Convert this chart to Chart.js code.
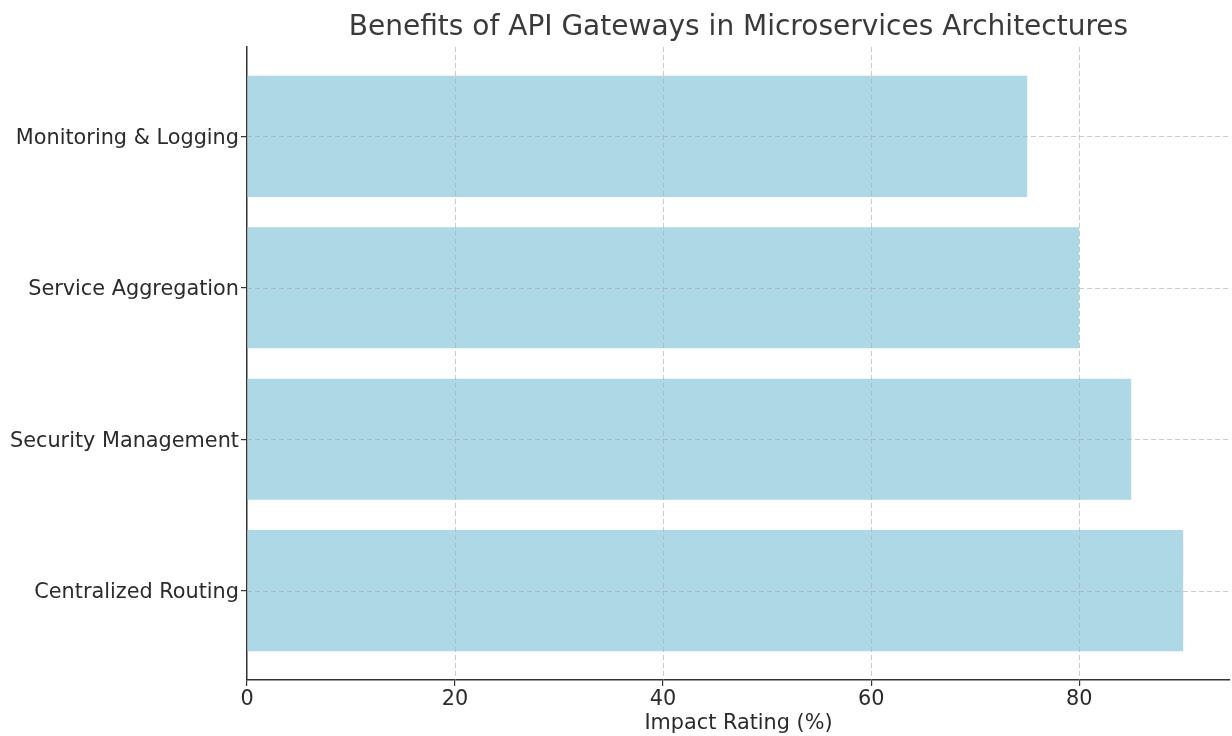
<!DOCTYPE html>
<html>
<head>
<meta charset="utf-8">
<title>Benefits of API Gateways in Microservices Architectures</title>
<script src="https://cdn.jsdelivr.net/npm/chart.js@4.4.1/dist/chart.umd.min.js"></script>
<style>
  html, body { margin: 0; padding: 0; background: #ffffff; }
  #wrap { width: 1232px; height: 736px; position: relative; }
</style>
</head>
<body>
<div id="wrap"><canvas id="chart"></canvas></div>
<script>
// Benefits, listed from the bottom row upwards
const categories = ['Centralized Routing', 'Security Management', 'Service Aggregation', 'Monitoring & Logging'];
const impactRatings = [90, 85, 80, 75];
const xTickValues = [0, 20, 40, 60, 80];
const chartTitle = 'Benefits of API Gateways in Microservices Architectures';
const xAxisTitle = 'Impact Rating (%)';

const FONT = "'DejaVu Sans', sans-serif";
const TEXT = '#2b2b2b';
const AXIS = '#333333';

// dashed grid drawn on top of the bars
const gridOverlay = {
  id: 'gridOverlay',
  afterDatasetsDraw(chart) {
    const { ctx, chartArea: a, scales: { x, y } } = chart;
    ctx.save();
    ctx.strokeStyle = 'rgba(170,170,170,0.6)';
    ctx.lineWidth = 1;
    ctx.setLineDash([5, 3]);
    x.ticks.forEach(t => {
      if (t.value === 0) return;
      const px = Math.round(x.getPixelForValue(t.value)) + 0.5;
      ctx.beginPath(); ctx.moveTo(px, a.top); ctx.lineTo(px, a.bottom); ctx.stroke();
    });
    y.ticks.forEach(t => {
      const py = Math.round(y.getPixelForValue(t.value)) + 0.5;
      ctx.beginPath(); ctx.moveTo(a.left, py); ctx.lineTo(a.right, py); ctx.stroke();
    });
    ctx.restore();
  }
};

// title centred over the plotting area
const areaTitle = {
  id: 'areaTitle',
  afterDraw(chart) {
    const { ctx, chartArea: a } = chart;
    ctx.save();
    ctx.font = '28px ' + FONT;
    ctx.fillStyle = '#3a3a3a';
    ctx.textAlign = 'center';
    ctx.textBaseline = 'middle';
    ctx.fillText(chartTitle, (a.left + a.right) / 2, 28);
    ctx.restore();
  }
};

new Chart(document.getElementById('chart'), {
  type: 'bar',
  data: {
    datasets: [{
      data: categories.map((c, i) => ({ x: impactRatings[i], y: i })),
      backgroundColor: '#add8e6',
      borderWidth: 0,
      barPercentage: 0.8,
      categoryPercentage: 1.0
    }]
  },
  options: {
    indexAxis: 'y',
    responsive: true,
    maintainAspectRatio: false,
    animation: false,
    layout: { padding: { top: 47, right: 2, left: 0, bottom: 0 } },
    plugins: {
      legend: { display: false },
      title: { display: false },
      tooltip: { enabled: false }
    },
    scales: {
      x: {
        type: 'linear',
        position: 'bottom',
        min: 0,
        max: 94.5,
        afterBuildTicks: s => { s.ticks = xTickValues.map(v => ({ value: v })); },
        afterFit: s => { s.height = 56; },
        grid: { drawOnChartArea: false, drawTicks: true, tickLength: 6, color: AXIS, lineWidth: 1.2 },
        border: { display: true, color: AXIS, width: 1.5 },
        ticks: { color: TEXT, font: { family: FONT, size: 20.8 }, padding: 1, maxRotation: 0 },
        title: { display: true, text: xAxisTitle, color: TEXT, font: { family: FONT, size: 20.8 }, padding: { top: 0, bottom: 0 } }
      },
      y: {
        type: 'linear',
        position: 'left',
        offset: false,
        min: -0.59,
        max: 3.59,
        afterBuildTicks: s => { s.ticks = categories.map((c, i) => ({ value: i })); },
        afterFit: s => { s.width = 247; },
        grid: { drawOnChartArea: false, drawTicks: true, offset: false, tickLength: 6, color: AXIS, lineWidth: 1.2 },
        border: { display: true, color: AXIS, width: 1.5 },
        ticks: {
          color: TEXT,
          font: { family: FONT, size: 20.8 },
          padding: 2,
          labelOffset: 2,
          callback: v => categories[v]
        }
      }
    }
  },
  plugins: [gridOverlay, areaTitle]
});
</script>
</body>
</html>
